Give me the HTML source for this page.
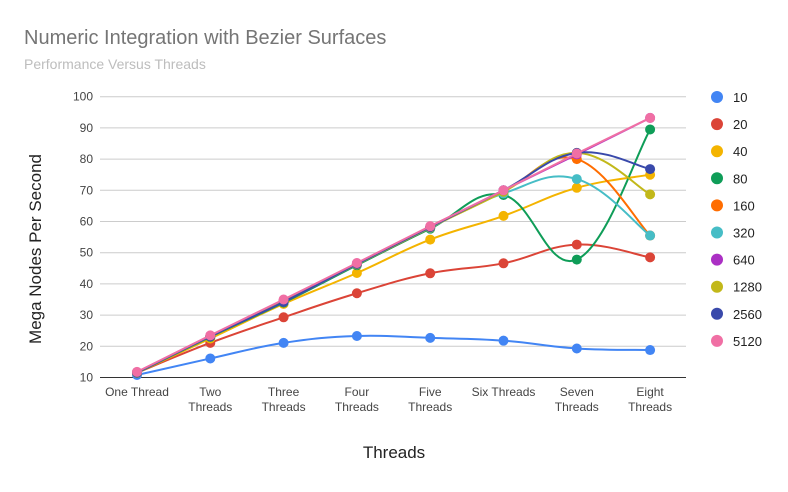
<!DOCTYPE html>
<html><head><meta charset="utf-8"><style>
body{margin:0;background:#fff;font-family:"Liberation Sans",Arial,sans-serif}
svg text{font-family:"Liberation Sans",Arial,sans-serif}
</style></head><body>
<svg id="chart" width="788" height="487">
<text x="24" y="44" font-size="20" fill="#757575">Numeric Integration with Bezier Surfaces</text>
<text x="24" y="69" font-size="14" fill="#bdbdbd">Performance Versus Threads</text>
<text x="394" y="458" font-size="17" fill="#222" text-anchor="middle">Threads</text>
<text transform="translate(41,249) rotate(-90)" font-size="17" fill="#222" text-anchor="middle">Mega Nodes Per Second</text>
<g id="grid"></g><g id="series"></g><g id="legend"></g>
</svg>
<script>
const categories=["One Thread","Two Threads","Three Threads","Four Threads","Five Threads","Six Threads","Seven Threads","Eight Threads"];
const seriesNames=["10","20","40","80","160","320","640","1280","2560","5120"];
const colors=["#4285f4","#db4437","#f4b400","#0f9d58","#ff6d00","#46bdc6","#ab30c4","#c2b81a","#3949ab","#f06fa4"];
const s10=[10.8,16.1,21.1,23.3,22.7,21.8,19.3,18.8];
const s20=[11.5,21.1,29.3,37,43.4,46.6,52.6,48.5];
const s40=[11.5,22.5,33.6,43.5,54.2,61.8,70.8,75];
const s80=[11.5,23,34,46,57.7,68.5,47.8,89.5];
const s160=[11.6,23.2,34.3,46.3,58,69.8,80,55.5];
const s320=[11.6,23.2,34.3,46.3,58,69,73.6,55.5];
const s640=[11.7,23.4,34.8,46.6,58.4,70,81.5,93.2];
const s1280=[11.6,23.2,34.3,46.3,58.1,69.5,82,68.7];
const s2560=[11.6,23.2,34.2,46.4,58.2,70,82,76.8];
const s5120=[11.8,23.5,35,46.7,58.5,70,81.8,93.2];
const allSeries=[s10,s20,s40,s80,s160,s320,s640,s1280,s2560,s5120];
const yTicks=[10,20,30,40,50,60,70,80,90,100];
const NS="http://www.w3.org/2000/svg";
const X0=137,XS=73.3,Y10=377.5,YPER=3.12;
const xs=i=>X0+i*XS;
const ys=v=>Y10-(v-10)*YPER;
function mk(t,a,p){const e=document.createElementNS(NS,t);for(const k in a)e.setAttribute(k,a[k]);p.appendChild(e);return e;}
const grid=document.getElementById('grid');
yTicks.forEach(t=>{
 const l=mk('line',{x1:100,x2:686,y1:ys(t),y2:ys(t),stroke:t===10?'#333':'#ccc','stroke-width':1},grid);
 
 
 const tx=mk('text',{x:93,y:ys(t)+4,'font-size':12,fill:'#444','text-anchor':'end'},grid);
 tx.textContent=t;
 
 
});
categories.forEach((c,i)=>{
 const parts=c.split(' ');
 const lines=(c==="One Thread"||c==="Six Threads")?[c]:parts;
 lines.forEach((p,j)=>{
  const tx=mk('text',{x:xs(i),y:396+j*15,'font-size':12,fill:'#444','text-anchor':'middle'},grid);
  tx.textContent=p;
  
  
 });
});
function path(vals){
 const P=vals.map((v,i)=>[xs(i),ys(v)]);
 let d='M'+P[0][0]+','+P[0][1];
 const k=0.2;
 for(let i=0;i<P.length-1;i++){
  const p0=P[Math.max(0,i-1)],p1=P[i],p2=P[i+1],p3=P[Math.min(P.length-1,i+2)];
  const c1=[p1[0]+(p2[0]-p0[0])*k,p1[1]+(p2[1]-p0[1])*k];
  const c2=[p2[0]-(p3[0]-p1[0])*k,p2[1]-(p3[1]-p1[1])*k];
  d+=` C${c1[0]},${c1[1]} ${c2[0]},${c2[1]} ${p2[0]},${p2[1]}`;
 }
 return d;
}
const sg=document.getElementById('series');
allSeries.forEach((vals,si)=>{
 const g=mk('g',{},sg);
 
 
 const p=mk('path',{d:path(vals),fill:'none',stroke:colors[si],'stroke-width':2},g);
 
 
 vals.forEach((v,i)=>{
  const c=mk('circle',{cx:xs(i),cy:ys(v),r:5,fill:colors[si]},g);
  
  
 });
});
const lg=document.getElementById('legend');
seriesNames.forEach((n,i)=>{
 const y=97+i*27.1;
 const g=mk('g',{},lg);
 
 
 mk('circle',{cx:717,cy:y,r:6,fill:colors[i]},g);
 const t=mk('text',{x:733,y:y+5,'font-size':13,fill:'#222'},g);
 t.textContent=n;
});
</script>
</body></html>
